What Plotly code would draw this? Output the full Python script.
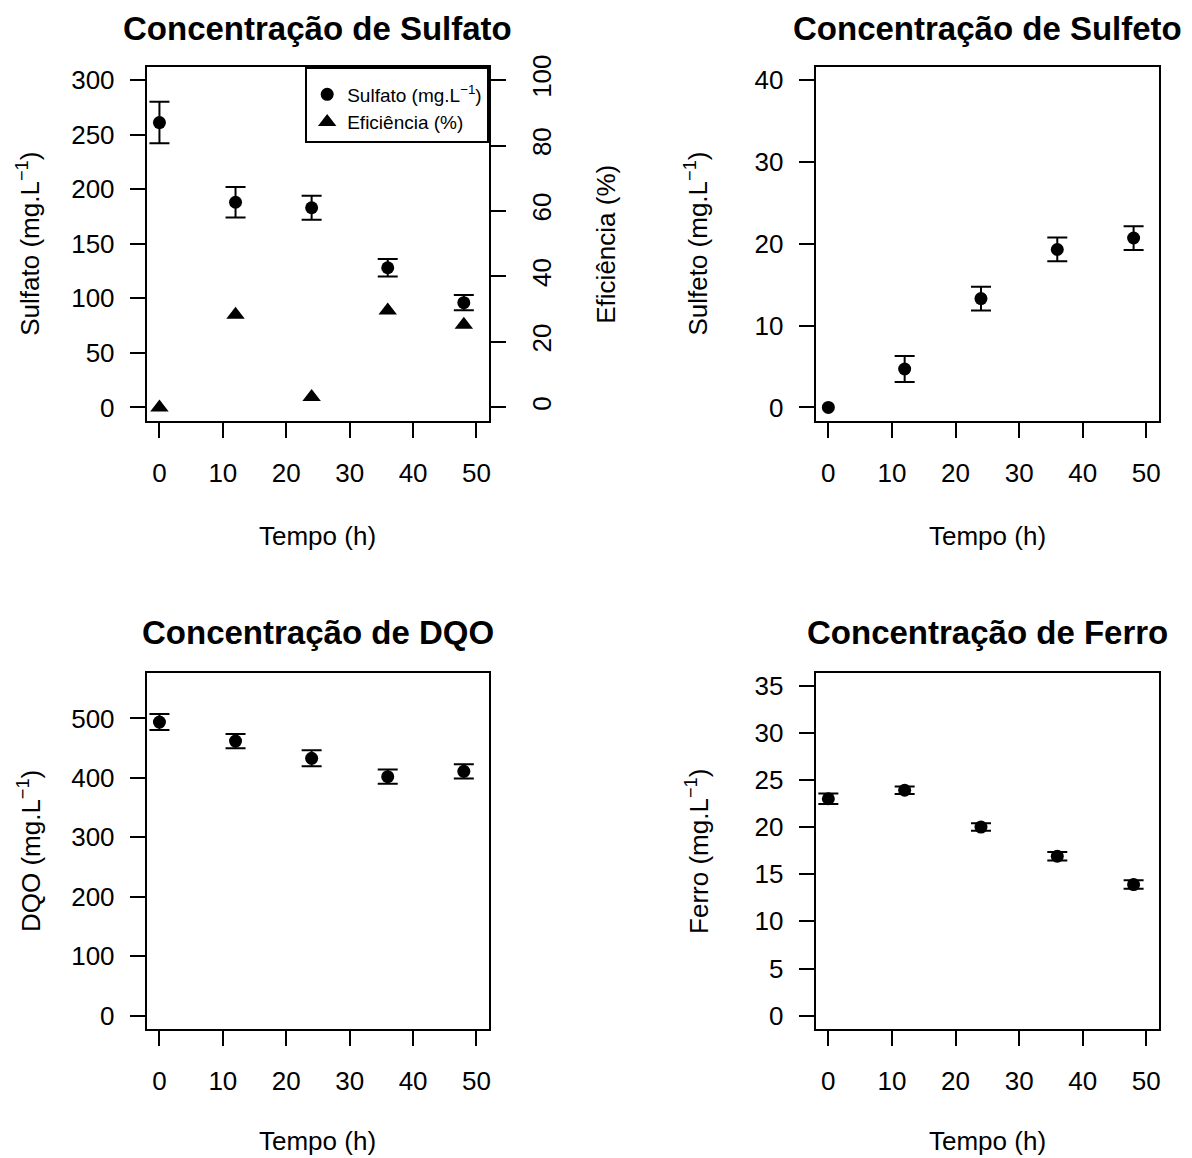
import plotly.graph_objects as go

# ---------------- data ----------------
tempo = [0, 12, 24, 36, 48]

sulfato = [261, 188, 183, 128, 96]
sulfato_sd = [19, 14, 11, 8, 7]
eficiencia = [0, 28.3, 3.2, 29.6, 25.3]

sulfeto = [0, 4.7, 13.3, 19.3, 20.7]
sulfeto_sd = [0, 1.6, 1.45, 1.45, 1.45]

dqo = [494, 462, 433, 402, 411]
dqo_sd = [13.5, 12, 13.5, 12, 12]

ferro = [23.0, 23.9, 20.0, 16.9, 13.9]
ferro_sd = [0.55, 0.4, 0.4, 0.45, 0.45]

x_ticks = [0, 10, 20, 30, 40, 50]
sulfato_ticks = [0, 50, 100, 150, 200, 250, 300]
efic_ticks = [0, 20, 40, 60, 80, 100]
sulfeto_ticks = [0, 10, 20, 30, 40]
dqo_ticks = [0, 100, 200, 300, 400, 500]
ferro_ticks = [0, 5, 10, 15, 20, 25, 30, 35]

titles = ["Concentração de Sulfato", "Concentração de Sulfeto",
          "Concentração de DQO", "Concentração de Ferro"]

# ---------------- layout geometry ----------------
W, H = 1176, 1158
FONT = "Liberation Sans, Arial, Helvetica, sans-serif"
BLACK = "#000000"

# map target screen positions to figure pixel positions (calibrated)
def px_x(p):
    return (p - 7) / W


def px_y(p):
    return 1 - ((p - 18) / 0.989) / H


left_dom = [px_x(146), px_x(489)]
right_dom = [px_x(816), px_x(1160)]
top_dom = [px_y(419), px_y(65)]
bot_dom = [px_y(1028), px_y(672)]

fig = go.Figure()


def add_series(xref, yref, x, y, sd, symbol, size, name=None, showlegend=False):
    if sd is not None:
        xe = [a for a, s in zip(x, sd) if s > 0]
        ye = [b for b, s in zip(y, sd) if s > 0]
        se = [s for s in sd if s > 0]
        fig.add_trace(go.Scatter(
            x=xe, y=ye, mode="markers", xaxis=xref, yaxis=yref,
            marker=dict(size=1, color="rgba(0,0,0,0)"),
            error_y=dict(type="data", array=se, visible=True, color=BLACK,
                         thickness=2, width=10),
            showlegend=False, hoverinfo="skip"))
    fig.add_trace(go.Scatter(
        x=x, y=y, mode="markers", xaxis=xref, yaxis=yref, name=name,
        marker=dict(symbol=symbol, size=size, color=BLACK),
        showlegend=showlegend))


add_series("x", "y", tempo, sulfato, sulfato_sd, "circle", 13,
           name="Sulfato (mg.L<sup>−1</sup>)", showlegend=True)
add_series("x", "y5", tempo, eficiencia, None, "triangle-up", 16,
           name="Eficiência (%)", showlegend=True)
add_series("x2", "y2", tempo, sulfeto, sulfeto_sd, "circle", 13)
add_series("x3", "y3", tempo, dqo, dqo_sd, "circle", 13)
add_series("x4", "y4", tempo, ferro, ferro_sd, "circle", 13)

axis_common = dict(
    showline=True, linecolor=BLACK, linewidth=2, mirror=True,
    ticks="outside", ticklen=15, tickwidth=2, tickcolor=BLACK,
    showgrid=False, zeroline=False,
    tickfont=dict(family=FONT, size=26, color=BLACK),
)

xaxis_kw = dict(axis_common, tickmode="array", tickvals=x_ticks,
                range=[-2, 52], ticklabelstandoff=13)
ystand = 10

fig.update_layout(
    width=W, height=H,
    paper_bgcolor="white", plot_bgcolor="white",
    margin=dict(l=0, r=0, t=0, b=0),
    font=dict(family=FONT, color=BLACK),
    xaxis=dict(xaxis_kw, domain=left_dom, anchor="y"),
    xaxis2=dict(xaxis_kw, domain=right_dom, anchor="y2"),
    xaxis3=dict(xaxis_kw, domain=left_dom, anchor="y3"),
    xaxis4=dict(xaxis_kw, domain=right_dom, anchor="y4"),
    yaxis=dict(axis_common, domain=top_dom, anchor="x", tickmode="array",
               tickvals=sulfato_ticks, range=[-12, 312], ticklabelstandoff=ystand),
    yaxis5=dict(axis_common, domain=top_dom, anchor="x", overlaying="y",
                side="right", tickmode="array", tickvals=efic_ticks,
                range=[-4, 104], tickangle=-90, ticklabelstandoff=14,
                mirror=False),
    yaxis2=dict(axis_common, domain=top_dom, anchor="x2", tickmode="array",
                tickvals=sulfeto_ticks, range=[-1.6, 41.6], ticklabelstandoff=ystand),
    yaxis3=dict(axis_common, domain=bot_dom, anchor="x3", tickmode="array",
                tickvals=dqo_ticks, range=[-22.2, 576], ticklabelstandoff=ystand),
    yaxis4=dict(axis_common, domain=bot_dom, anchor="x4", tickmode="array",
                tickvals=ferro_ticks, range=[-1.4, 36.3], ticklabelstandoff=ystand),
    legend=dict(x=left_dom[1], y=top_dom[1], xanchor="right", yanchor="top",
                bgcolor="white", bordercolor=BLACK, borderwidth=2,
                font=dict(family=FONT, size=19, color=BLACK),
                title=dict(text=" ", font=dict(family=FONT, size=5)),
                itemsizing="trace", tracegroupgap=0),
)

annotations = []
title_pos = [((146 + 489) / 2, 27), ((816 + 1160) / 2, 27),
             ((146 + 489) / 2, 631), ((816 + 1160) / 2, 631)]
for t, (cx, cy) in zip(titles, title_pos):
    annotations.append(dict(text="<b>" + t + "</b>", x=px_x(cx), y=px_y(cy),
                            xref="paper", yref="paper", showarrow=False,
                            font=dict(family=FONT, size=33, color=BLACK),
                            xanchor="center", yanchor="middle"))

for cx, cy in [((146 + 489) / 2, 535), ((816 + 1160) / 2, 535),
               ((146 + 489) / 2, 1140), ((816 + 1160) / 2, 1140)]:
    annotations.append(dict(text="Tempo (h)", x=px_x(cx), y=px_y(cy),
                            xref="paper", yref="paper", showarrow=False,
                            font=dict(family=FONT, size=26, color=BLACK),
                            xanchor="center", yanchor="middle"))

ylabels = [("Sulfato (mg.L<sup>−1</sup>)", 28, 242),
           ("Sulfeto (mg.L<sup>−1</sup>)", 697, 242),
           ("DQO (mg.L<sup>−1</sup>)", 28, 850),
           ("Ferro (mg.L<sup>−1</sup>)", 697, 850),
           ("Eficiência (%)", 606, 242)]
for t, cx, cy in ylabels:
    annotations.append(dict(text=t, x=px_x(cx), y=px_y(cy),
                            xref="paper", yref="paper", showarrow=False,
                            textangle=-90,
                            font=dict(family=FONT, size=26, color=BLACK),
                            xanchor="center", yanchor="middle"))

fig.update_layout(annotations=annotations)

fig.write_html("out.html")
